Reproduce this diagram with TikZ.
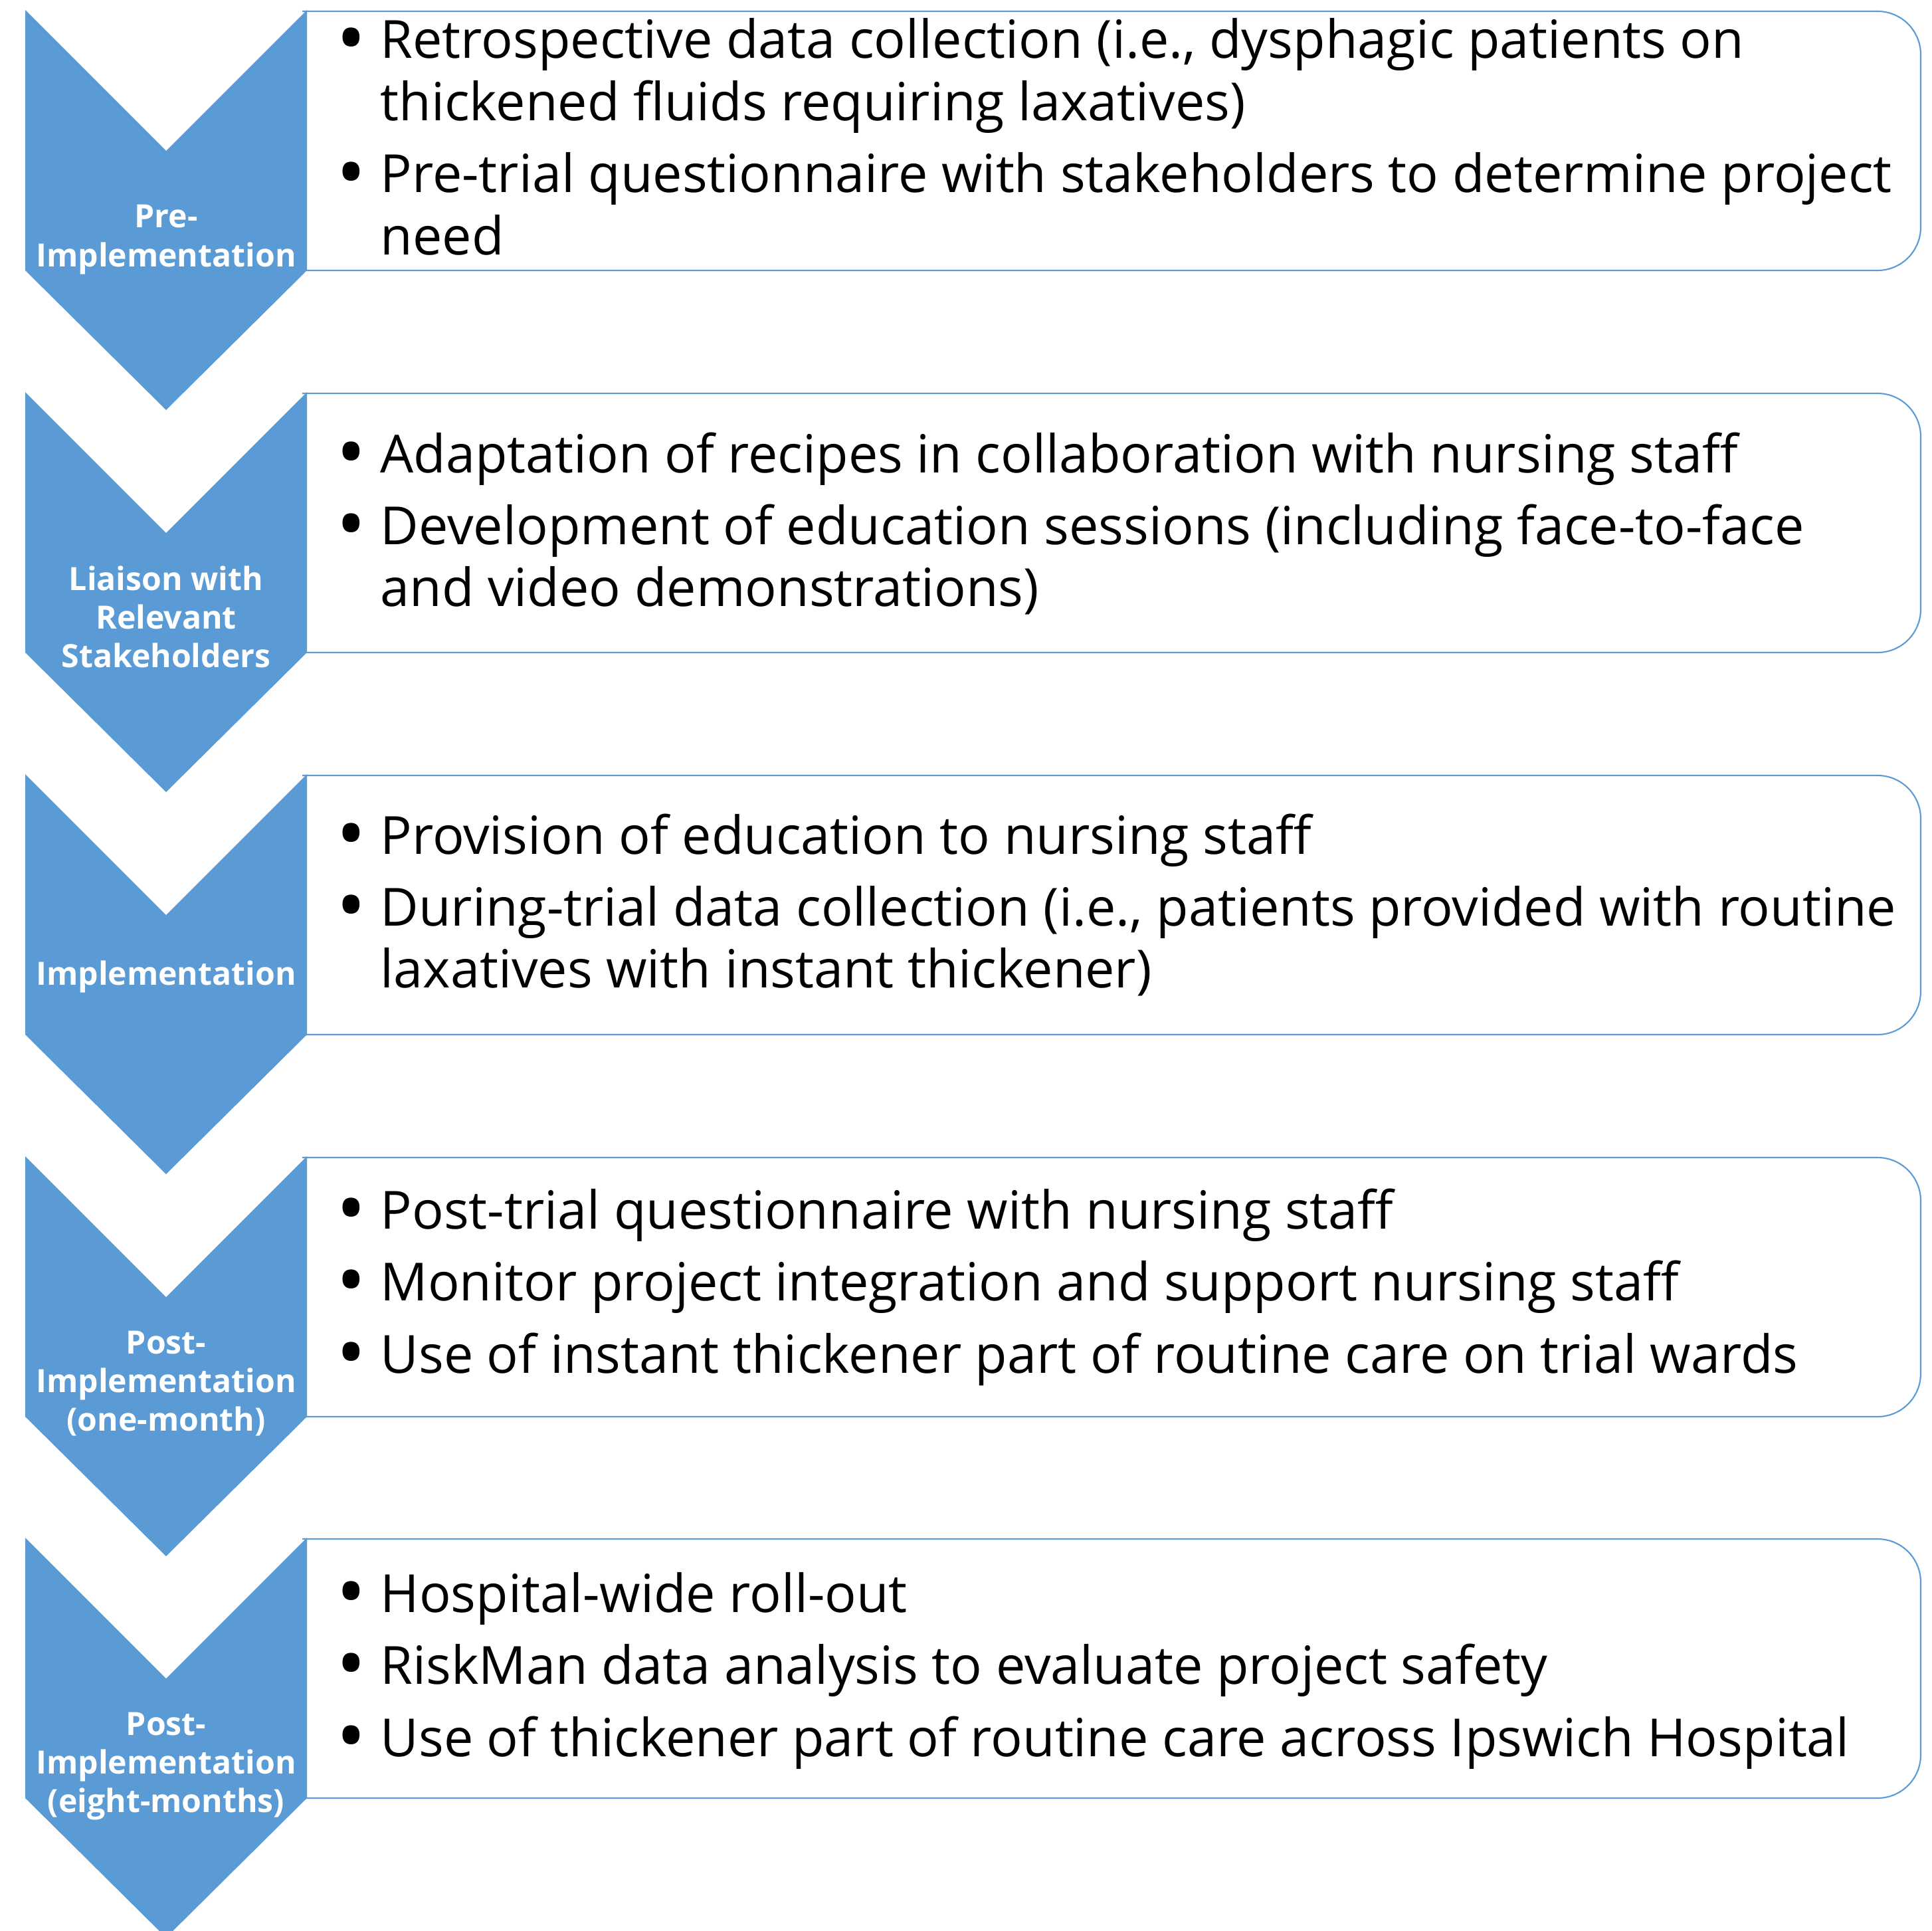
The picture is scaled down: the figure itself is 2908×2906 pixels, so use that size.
\documentclass[tikz,border=0pt]{standalone}
\usepackage{fontspec}
\setmainfont{Open Sans}
\usepackage{tikz}
\definecolor{StageBlue}{RGB}{91,155,213}
\newcommand{\itm}{\llap{\makebox[25pt][c]{\raisebox{-3.2pt}{\scalebox{1.5}{\textbullet}}}}}

\begin{document}
\begin{tikzpicture}[x=0.01cm, y=-0.01cm,
		chevron/.style={fill=StageBlue},
		box/.style={draw=StageBlue, line width=0.6pt, rounded corners=18.5pt},
		stagelbl/.style={text=white, font=\fontsize{13.7pt}{16.5pt}\selectfont\bfseries, inner sep=0pt, anchor=base},
		itemtxt/.style={font=\fontsize{22.5pt}{26.5pt}\selectfont, inner sep=0pt, anchor=base west}]
		\useasboundingbox (0,0) rectangle (2908,2906);
		
		% boxes (left side hidden behind the chevrons)
		\begin{scope}
			\clip (455,0) rectangle (2908,2906);
			\draw[box] (300,17) rectangle (2891,407);
			\draw[box] (300,592) rectangle (2891,982);
			\draw[box] (300,1167) rectangle (2891,1557);
			\draw[box] (300,1742) rectangle (2891,2132);
			\draw[box] (300,2316) rectangle (2891,2706);
		\end{scope}
		
		% chevrons
		\fill[chevron] (38,15) -- (250,227) -- (462,15) -- (462,407) -- (250,617) -- (38,407) -- cycle;
		\fill[chevron] (38,590) -- (250,802) -- (462,590) -- (462,982) -- (250,1192) -- (38,982) -- cycle;
		\fill[chevron] (38,1165) -- (250,1377) -- (462,1165) -- (462,1557) -- (250,1767) -- (38,1557) -- cycle;
		\fill[chevron] (38,1740) -- (250,1952) -- (462,1740) -- (462,2132) -- (250,2342) -- (38,2132) -- cycle;
		\fill[chevron] (38,2314) -- (250,2526) -- (462,2314) -- (462,2706) -- (250,2916) -- (38,2706) -- cycle;
		
		\node[stagelbl] (pre) at (250,343) {\begin{tabular}[t]{@{}c@{}}Pre-\\Implementation\end{tabular}};
		\node[stagelbl] (liaison) at (250,888) {\begin{tabular}[t]{@{}c@{}}Liaison with\\Relevant\\Stakeholders\end{tabular}};
		\node[stagelbl] (impl) at (250,1482) {Implementation};
		\node[stagelbl] (postone) at (250,2037) {\begin{tabular}[t]{@{}c@{}}Post-\\Implementation\\(one-month)\end{tabular}};
		\node[stagelbl] (posteight) at (250,2611) {\begin{tabular}[t]{@{}c@{}}Post-\\Implementation\\(eight-months)\end{tabular}};
		
		\node[itemtxt] (pretxt) at (572,88) {\begin{tabular}[t]{@{}l@{}}
				\itm Retrospective data collection (i.e., dysphagic patients on\\
				thickened fluids requiring laxatives)\\[4.4pt]
				\itm Pre-trial questionnaire with stakeholders to determine project\\
				need\end{tabular}};
		\node[itemtxt] (liaisontxt) at (572,711) {\begin{tabular}[t]{@{}l@{}}
				\itm Adaptation of recipes in collaboration with nursing staff\\[4.4pt]
				\itm Development of education sessions (including face-to-face\\
				and video demonstrations)\end{tabular}};
		\node[itemtxt] (impltxt) at (572,1285) {\begin{tabular}[t]{@{}l@{}}
				\itm Provision of education to nursing staff\\[4.4pt]
				\itm During-trial data collection (i.e., patients provided with routine\\
				laxatives with instant thickener)\end{tabular}};
		\node[itemtxt] (postonetxt) at (572,1849) {\begin{tabular}[t]{@{}l@{}}
				\itm Post-trial questionnaire with nursing staff\\[4.4pt]
				\itm Monitor project integration and support nursing staff\\[4.4pt]
				\itm Use of instant thickener part of routine care on trial wards\end{tabular}};
		\node[itemtxt] (posteighttxt) at (572,2426) {\begin{tabular}[t]{@{}l@{}}
				\itm Hospital-wide roll-out\\[4.4pt]
				\itm RiskMan data analysis to evaluate project safety\\[4.4pt]
				\itm Use of thickener part of routine care across Ipswich Hospital\end{tabular}};
	\end{tikzpicture}
\end{document}
